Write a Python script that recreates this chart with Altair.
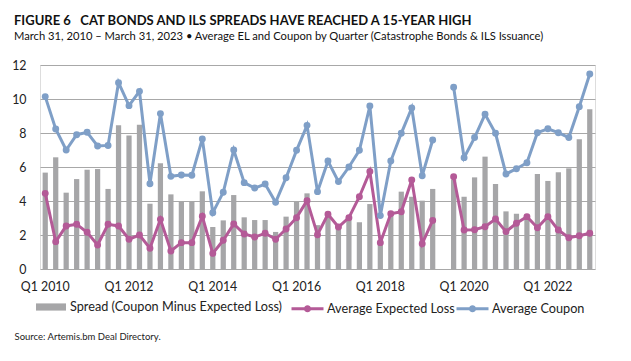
import altair as alt
import pandas as pd

# ---- data ----
quarters = [f"Q{q} {y}" for y in range(2010, 2024) for q in range(1, 5)][:53]
tick_labels = ["Q1 2010", "Q1 2012", "Q1 2014", "Q1 2016", "Q1 2018", "Q1 2020", "Q1 2022"]

coupon = [10.14, 8.24, 7.0, 7.9, 8.04, 7.24, 7.27, 10.96, 9.61, 10.45, 5.02,
          9.14, 5.45, 5.53, 5.51, 7.65, 3.31, 4.51, 7.0, 5.08, 4.76,
          5.0, 3.92, 5.37, 6.98, 8.45, 4.55, 6.35, 5.14, 6.0, 6.98, 9.59,
          3.14, 6.35, 7.98, 9.47, 5.49, 7.59, None, 10.69, 6.55, 7.73,
          9.1, 7.98, 5.59, 5.9, 6.25, 8.02, 8.25, 8.02, 7.73, 9.55, 11.47]

expected_loss = [4.45, 1.61, 2.53, 2.63, 2.16, 1.41, 2.63, 2.53, 1.75, 2.0, 1.22,
                 2.92, 1.06, 1.55, 1.55, 3.1, 0.92, 1.69, 2.65, 2.06, 1.88,
                 2.1, 1.75, 2.35, 3.02, 4.02, 2.02, 3.22, 2.47, 3.02, 4.25, 5.73,
                 1.55, 3.25, 3.37, 5.24, 1.49, 2.86, None, 5.43, 2.29, 2.31,
                 2.49, 2.94, 2.2, 2.69, 3.08, 2.43, 3.08, 2.29, 1.84, 1.96, 2.1]

spread = [5.67, 6.57, 4.49, 5.29, 5.84, 5.88, 4.71, 8.45, 7.86, 8.49, 3.84,
          6.22, 4.39, 3.96, 3.96, 4.57, 2.47, 2.86, 4.35, 3.04, 2.88,
          2.88, 2.18, 3.08, 3.96, 4.45, 2.58, 3.13, 2.65, 3.1, 2.75, 3.82,
          1.6, 3.1, 4.55, 4.25, 4.02, 4.71, None, 5.26, 4.25, 5.39,
          6.61, 5.0, 3.39, 3.25, 3.17, 5.59, 5.18, 5.69, 5.92, 7.63, 9.39]

S_SPREAD = "Spread (Coupon Minus Expected Loss)"
S_EL = "Average Expected Loss"
S_CPN = "Average Coupon"

TITLE = "FIGURE 6\u00a0\u00a0\u00a0CAT BONDS AND ILS SPREADS HAVE REACHED A 15-YEAR HIGH"
SUBTITLE = ("March 31, 2010 \u2013 March 31, 2023 \u2022 Average EL and Coupon by Quarter "
            "(Catastrophe Bonds & ILS Issuance)")
SOURCE = "Source: Artemis.bm Deal Directory."

rows = []
seg = 0
for i, q in enumerate(quarters):
    if coupon[i] is None:
        seg += 1
        continue
    rows.append(dict(quarter=q, series=S_SPREAD, value=spread[i], seg=seg))
    rows.append(dict(quarter=q, series=S_EL, value=expected_loss[i], seg=seg))
    rows.append(dict(quarter=q, series=S_CPN, value=coupon[i], seg=seg))
df = pd.DataFrame(rows)

FONT = "Lato"
GRAY = "#a6a6a8"
PINK = "#b45a97"
BLUE = "#7f9fc7"

RECT_PATH = "M-1,-0.24H1V0.24H-1Z"
LINE_PATH = "M-1,0H1M0.13,0A0.13,0.13 0 1,1 -0.13,0A0.13,0.13 0 1,1 0.13,0"

x_enc = alt.X(
    "quarter:N",
    sort=quarters,
    scale=alt.Scale(type="band", domain=quarters, paddingInner=0.5, paddingOuter=0.25),
    axis=alt.Axis(
        values=tick_labels, labelAngle=0, ticks=False, domain=False,
        labelPadding=11, labelFont=FONT, labelFontSize=12.4, labelColor="#222222",
        labelOverlap=False,
        title=SOURCE, titleX=-26, titleY=70, titleAlign="left", titleAnchor="start",
        titleBaseline="alphabetic", titleFont=FONT, titleFontSize=9.5,
        titleFontWeight="normal", titleColor="#222222",
    ),
)
y_enc = alt.Y(
    "value:Q",
    scale=alt.Scale(domain=[0, 12], nice=False),
    axis=alt.Axis(
        values=[0, 2, 4, 6, 8, 10, 12], title=None, domain=False, ticks=False, tickSize=0,
        labelPadding=14, labelFont=FONT, labelFontSize=12.4, labelColor="#222222",
        grid=True, gridColor="#a8a8a8", gridWidth=1,
    ),
)

fill_enc = alt.Fill(
    "series:N",
    scale=alt.Scale(domain=[S_SPREAD], range=[GRAY]),
    legend=alt.Legend(
        title=None, orient="none", legendX=-4, legendY=227, direction="horizontal",
        symbolType=RECT_PATH, symbolSize=900, symbolStrokeWidth=0, symbolOpacity=1,
        labelOffset=4, labelFont=FONT, labelFontSize=12.7, labelColor="#222222",
        labelLimit=400, padding=0,
    ),
)
color_enc = alt.Color(
    "series:N",
    scale=alt.Scale(domain=[S_EL, S_CPN], range=[PINK, BLUE]),
    legend=alt.Legend(
        title=None, orient="none", legendX=250, legendY=226, direction="horizontal",
        symbolType=LINE_PATH, symbolSize=1024, symbolStrokeWidth=3, symbolOpacity=1,
        columnPadding=-5, labelOffset=2, labelFont=FONT, labelFontSize=12.7,
        labelColor="#222222", labelLimit=400, padding=0,
    ),
)

base = alt.Chart(df)

bars = base.transform_filter(alt.datum.series == S_SPREAD).mark_bar(color=GRAY).encode(
    x=x_enc, y=y_enc, fill=fill_enc
)
lines = base.transform_filter(alt.datum.series != S_SPREAD).mark_line(strokeWidth=3).encode(
    x=x_enc, y=y_enc, color=color_enc, detail="seg:N"
)
points = base.transform_filter(alt.datum.series != S_SPREAD).mark_point(
    filled=True, size=48, opacity=1, shape="circle"
).encode(x=x_enc, y=y_enc, color=color_enc)

chart = alt.layer(bars, lines, points).properties(
    width=555,
    height=204,
    autosize=alt.AutoSizeParams(type="none"),
    padding={"left": 32, "top": 57, "right": 28, "bottom": 80},
    title=alt.TitleParams(
        text=TITLE, subtitle=SUBTITLE, anchor="start", frame="group", dx=-26, offset=17,
        font=FONT, fontSize=13, fontWeight="bold", color="#111111",
        subtitleFont=FONT, subtitleFontSize=11.2, subtitleColor="#111111", subtitlePadding=3,
    ),
).configure_view(strokeWidth=0).configure(background="white")

chart.save("out.html", embed_options={"renderer": "svg", "actions": False})
